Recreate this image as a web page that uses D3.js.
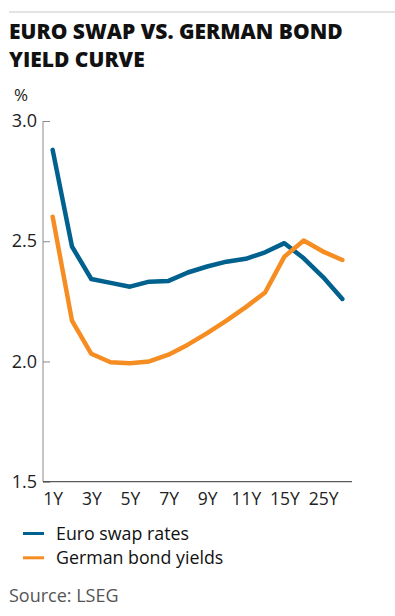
<!DOCTYPE html>
<html>
<head>
<meta charset="utf-8">
<script src="https://cdn.jsdelivr.net/npm/d3@7"></script>
<style>
  body { margin: 0; background: #fff; }
  svg { display: block; font-family: "Open Sans", sans-serif; }
</style>
</head>
<body>
<script>
  // tenors and yields (%)
  const tenors = ["1Y","2Y","3Y","4Y","5Y","6Y","7Y","8Y","9Y","10Y","11Y","12Y","15Y","20Y","25Y","30Y"];
  const swapRates = [2.88, 2.478, 2.343, 2.327, 2.311, 2.332, 2.335, 2.370, 2.395, 2.415, 2.427, 2.454, 2.492, 2.429, 2.351, 2.260];
  const bundYields = [2.602, 2.170, 2.032, 1.997, 1.993, 2.0, 2.028, 2.070, 2.118, 2.170, 2.226, 2.287, 2.436, 2.503, 2.457, 2.422];
  const xTicks = ["1Y","3Y","5Y","7Y","9Y","11Y","15Y","25Y"];
  const yTicks = [1.5, 2.0, 2.5, 3.0];
  const seriesNames = ["Euro swap rates", "German bond yields"];
  const colors = ["#00618f", "#f68d22"];

  const W = 395, H = 616;
  const svg = d3.select("body").append("svg").attr("width", W).attr("height", H);

  // top rule
  svg.append("line").attr("x1", 9).attr("x2", W).attr("y1", 12).attr("y2", 12)
    .attr("stroke", "#c8c8c8").attr("stroke-width", 1);

  // title
  const title = svg.append("text").attr("x", 9).attr("font-size", 21).attr("font-weight", 800).attr("fill", "#111");
  title.append("tspan").attr("x", 9).attr("y", 38.5).text("EURO SWAP VS. GERMAN BOND");
  title.append("tspan").attr("x", 9).attr("y", 67).text("YIELD CURVE");

  svg.append("text").attr("x", 14).attr("y", 100.5).attr("font-size", 17).attr("fill", "#222").text("%");

  const x = d3.scalePoint().domain(tenors).range([43, 352]).padding(0.5);
  const y = d3.scaleLinear().domain([1.5, 3.0]).range([481.7, 121]);

  // y axis
  svg.append("line").attr("x1", 43).attr("x2", 43).attr("y1", y(3.0)).attr("y2", y(1.5))
    .attr("stroke", "#8a8a8a").attr("stroke-width", 1);
  const yAxis = d3.axisRight(y).tickValues(yTicks).tickFormat(d3.format(".1f")).tickSize(7).tickPadding(0);
  const gy = svg.append("g").attr("transform", "translate(43,0)").call(yAxis);
  gy.select(".domain").remove();
  gy.selectAll(".tick line").attr("stroke", "#8a8a8a");
  gy.selectAll(".tick text").attr("x", -6).attr("text-anchor", "end")
    .attr("font-size", 18).attr("fill", "#222").attr("font-family", "Open Sans");

  // x axis
  const xAxis = d3.axisBottom(x).tickValues(xTicks).tickSize(0).tickPadding(11);
  const gx = svg.append("g").attr("transform", `translate(0,${y(1.5)})`).call(xAxis);
  gx.select(".domain").attr("stroke", "#333").attr("d", "M43,0H352");
  gx.selectAll(".tick text").attr("font-size", 17.5).attr("fill", "#222").attr("font-family", "Open Sans");

  const line = d3.line().x((d, i) => x(tenors[i])).y(d => y(d));
  [swapRates, bundYields].forEach((vals, k) => {
    svg.append("path").datum(vals).attr("d", line).attr("fill", "none")
      .attr("stroke", colors[k]).attr("stroke-width", 4.5)
      .attr("stroke-linejoin", "round").attr("stroke-linecap", "round");
  });

  // legend
  seriesNames.forEach((name, k) => {
    const ly = 533.5 + k * 24.3;
    svg.append("line").attr("x1", 23).attr("x2", 44).attr("y1", ly).attr("y2", ly)
      .attr("stroke", colors[k]).attr("stroke-width", 3);
    svg.append("text").attr("x", 56).attr("y", ly + 6).attr("font-size", 17.8).attr("fill", "#111").text(name);
  });

  svg.append("text").attr("x", 9).attr("y", 602).attr("font-size", 18).attr("fill", "#555").text("Source: LSEG");
</script>
</body>
</html>
